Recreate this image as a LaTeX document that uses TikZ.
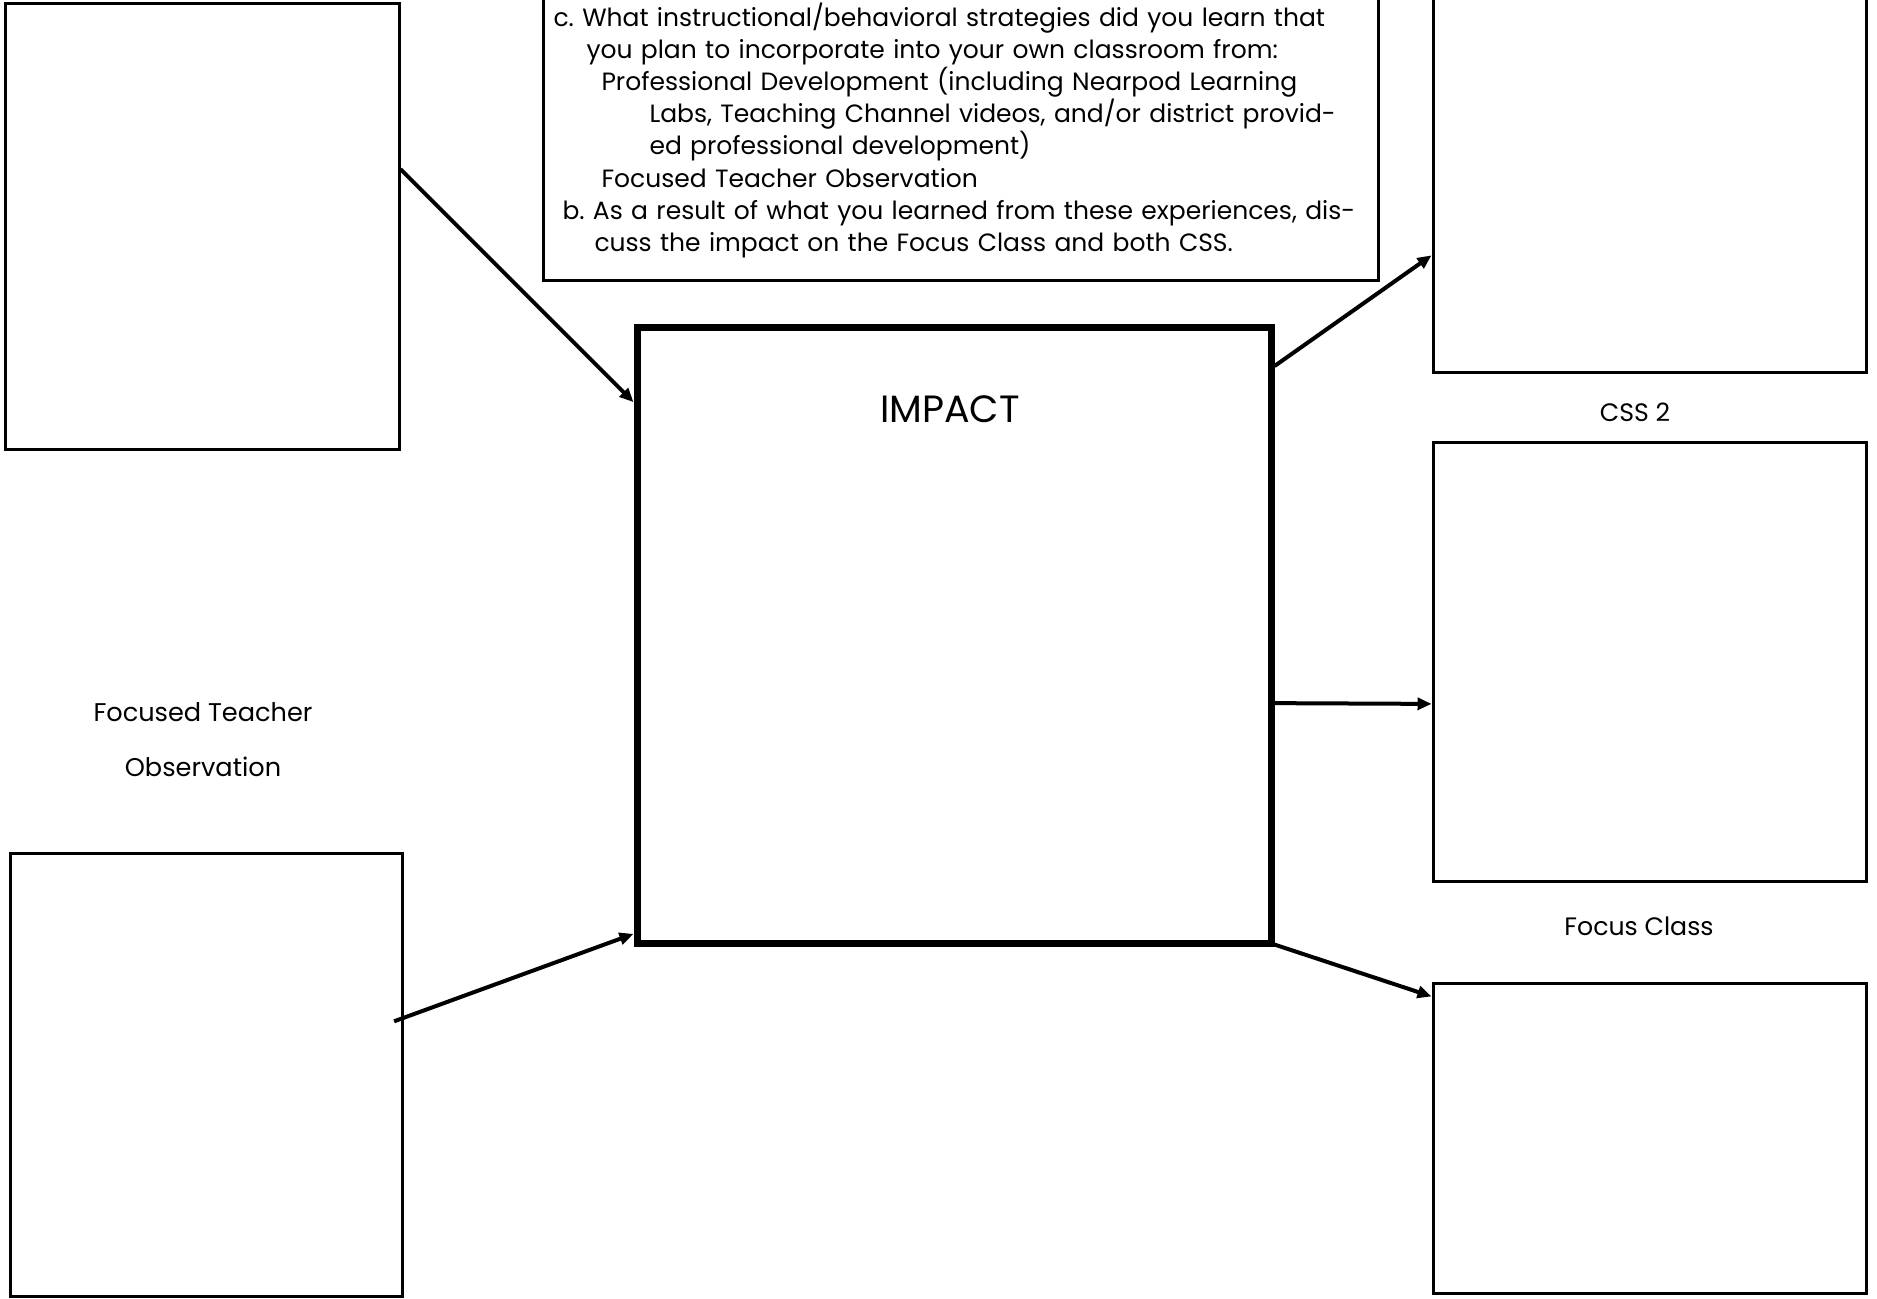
\documentclass[tikz,border=0pt]{standalone}
\usepackage{fontspec}
\setmainfont{Poppins}
\usetikzlibrary{arrows.meta}
\frenchspacing

\begin{document}
\begin{tikzpicture}[x=0.5pt, y=-0.5pt, arrows={-Triangle[length=7pt,width=6pt]},
	box/.style={draw, line width=1.5pt, inner sep=0pt},
	link/.style={line width=2pt},
	lbl/.style={font=\fontsize{12.6}{15}\selectfont}]
	\useasboundingbox (0,0) rectangle (1877,1298);
	\clip (0,0) rectangle (1877,1298);
	\node [box, minimum width=197pt, minimum height=223pt] (PD) at (202,226) {};
	\node [box, minimum width=196pt, minimum height=221.5pt] (FTO) at (206,1074.5) {};
	\node [box, minimum width=216.5pt, minimum height=196pt] (CSSa) at (1649.5,176) {};
	\node [box, minimum width=216.5pt, minimum height=219.5pt] (CSSb) at (1649.5,661.5) {};
	\node [box, minimum width=216.5pt, minimum height=155pt] (FC) at (1649.5,1138) {};
	\node [box, line width=3.5pt, minimum width=317pt, minimum height=308pt] (IMP) at (954,635) {};
	\node [box, anchor=south west, inner xsep=5pt, inner ysep=11.3pt, text width=407.5pt, align=left,
		font=\fontsize{12.5}{16.1}\selectfont] (Q) at (542,282) {%
		\mbox{c. What instructional/behavioral strategies did you learn that}\\
		\hspace*{16.5pt}\mbox{you plan to incorporate into your own classroom from:}\\
		\hspace*{24pt}\mbox{Professional Development (including Nearpod Learning}\\
		\hspace*{48pt}\mbox{Labs, Teaching Channel videos, and/or district provid-}\\
		\hspace*{48pt}\mbox{ed professional development)}\\
		\hspace*{24pt}\mbox{Focused Teacher Observation}\\
		\hspace*{4.5pt}\mbox{b. As a result of what you learned from these experiences, dis-}\\
		\hspace*{20.5pt}\mbox{cuss the impact on the Focus Class and both CSS.}};

	\node [font=\fontsize{19}{22}\selectfont] (IMPt) at (950,409) {IMPACT};
	\node [lbl] (CSSt) at (1635,412) {CSS 2};
	\node [lbl] (FCt) at (1639,926) {Focus Class};
	\node [lbl, align=center, font=\fontsize{12.8}{27.5}\selectfont] (FTOt) at (203,740) {Focused Teacher\\Observation};

	\draw [link] (PD.16.1) -- (IMP.144);
	\draw [link, shorten <=-5pt] (FTO.16.4) -- (IMP.223.1);
	\draw [link] (IMP.40.6) -- (CSSa.200);
	\draw [link] (IMP.348.2) -- (CSSb.191.7);
	\draw [link] (IMP.316.1) -- (FC.147);
\end{tikzpicture}
\end{document}
